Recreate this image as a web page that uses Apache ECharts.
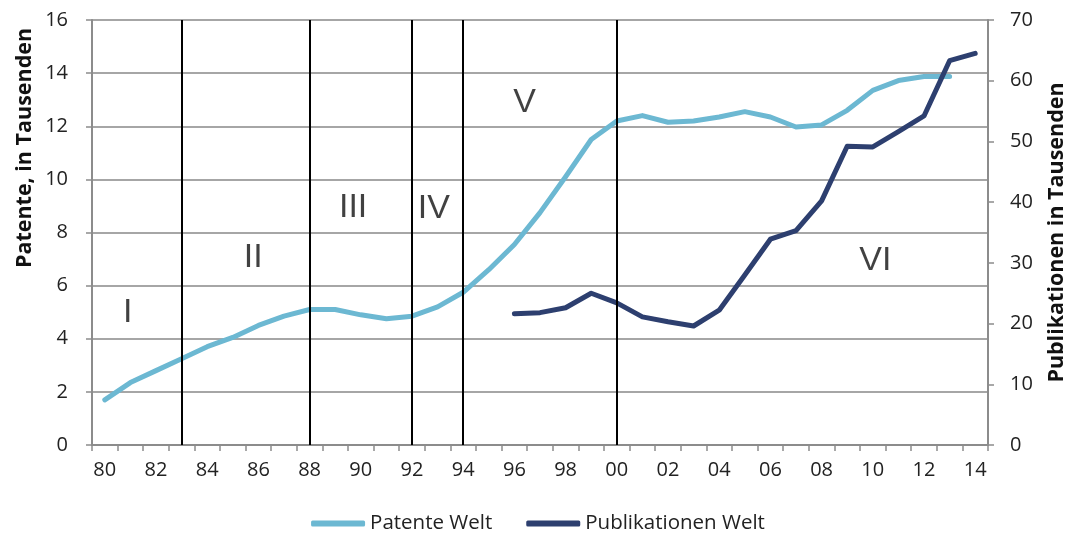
<!DOCTYPE html>
<html><head><meta charset="utf-8">
<script src="https://cdn.jsdelivr.net/npm/echarts@6/dist/echarts.min.js"></script>
<style>html,body{margin:0;padding:0;background:#fff}#c{width:1076px;height:542px}</style>
</head><body><div id="c"></div>
<script>
const years = ['80','81','82','83','84','85','86','87','88','89','90','91','92','93','94','95','96','97','98','99','00','01','02','03','04','05','06','07','08','09','10','11','12','13','14'];
const patente = [1.7,2.35,2.8,3.25,3.7,4.05,4.5,4.85,5.1,5.1,4.9,4.75,4.85,5.2,5.75,6.6,7.55,8.75,10.1,11.5,12.2,12.4,12.15,12.2,12.35,12.55,12.35,11.97,12.05,12.6,13.35,13.72,13.87,13.87,null];
const publikationen = [null,null,null,null,null,null,null,null,null,null,null,null,null,null,null,null,21.6,21.8,22.6,25.0,23.4,21.1,20.3,19.6,22.2,28.0,33.9,35.3,40.2,49.2,49.1,51.6,54.2,63.3,64.5];
const phaseBreaks = [1983,1988,1992,1994,2000];
const phaseLabels = ['I','II','III','IV','V','VI'];
const phaseLabelX = [1980.9,1985.8,1989.7,1992.85,1996.4,2010.1];
const phaseLabelY = [5.0,7.05,8.95,8.9,12.9,6.95];
const leftAxisName = 'Patente, in Tausenden';
const rightAxisName = 'Publikationen in Tausenden';

const font = '"Open Sans", "Noto Sans", sans-serif';
const chart = echarts.init(document.getElementById('c'));
chart.setOption({
  animation:false,
  textStyle:{fontFamily:font},
  grid:{left:92,right:86,top:20,bottom:97},
  legend:{bottom:3,left:'center',itemWidth:54,itemHeight:6,itemGap:34,icon:'roundRect',
    textStyle:{fontSize:20.5,color:'#222',fontFamily:font},
    data:['Patente Welt','Publikationen Welt']},
  graphic:[{type:'text',x:25,y:148,rotation:Math.PI/2,
    style:{text:leftAxisName,fontSize:21.5,fontWeight:'bold',fill:'#111',fontFamily:font,
      textAlign:'center',textVerticalAlign:'middle'}}],
  xAxis:[{type:'category',data:years,boundaryGap:true,
    axisLine:{lineStyle:{color:'#8c8c8c',width:2}},
    axisTick:{show:true,interval:0,length:6,lineStyle:{color:'#8c8c8c',width:1.5}},
    axisLabel:{interval:1,fontSize:20,color:'#222',margin:15,fontFamily:font}},
   {type:'value',min:1979.5,max:2014.5,show:false}],
  yAxis:[{type:'value',min:0,max:16,interval:2,position:'left',
    axisLine:{show:true,lineStyle:{color:'#8c8c8c',width:2}},
    axisTick:{show:true,length:6,lineStyle:{color:'#8c8c8c',width:1.5}},
    axisLabel:{fontSize:20,color:'#222',margin:24,fontFamily:font},
    splitLine:{lineStyle:{color:'#a6a6a6',width:2}}},
   {type:'value',min:0,max:70,interval:10,position:'right',
    name:rightAxisName,nameLocation:'middle',nameGap:58,nameRotate:90,
    nameTextStyle:{fontSize:21.5,fontWeight:'bold',color:'#111',fontFamily:font},
    axisLine:{show:true,lineStyle:{color:'#8c8c8c',width:2}},
    axisTick:{show:true,length:6,lineStyle:{color:'#8c8c8c',width:1.5}},
    axisLabel:{fontSize:20,color:'#222',margin:22,fontFamily:font},
    splitLine:{show:false}}],
  series:[
    {name:'Patente Welt',type:'line',data:patente,xAxisIndex:0,yAxisIndex:0,symbol:'none',
     lineStyle:{color:'#6cb8d2',width:5,cap:'round',join:'round'},itemStyle:{color:'#6cb8d2'},z:3},
    {name:'Publikationen Welt',type:'line',data:publikationen,xAxisIndex:0,yAxisIndex:1,symbol:'none',
     lineStyle:{color:'#2d3f6f',width:5,cap:'round',join:'round'},itemStyle:{color:'#2d3f6f'},z:4},
    {name:'phases',type:'scatter',xAxisIndex:1,yAxisIndex:0,symbolSize:0,z:5,silent:true,
     data:phaseLabels.map((t,i)=>({value:[phaseLabelX[i],phaseLabelY[i]],name:t})),
     label:{show:true,position:'inside',formatter:p=>p.name,fontSize:34,color:'#111',fontFamily:'"Liberation Sans", Arial, sans-serif'},
     markLine:{silent:true,symbol:['none','none'],label:{show:false},
       lineStyle:{color:'#000',width:2,type:'solid'},
       data:phaseBreaks.map(v=>({xAxis:v}))}}
  ]
});
</script></body></html>
